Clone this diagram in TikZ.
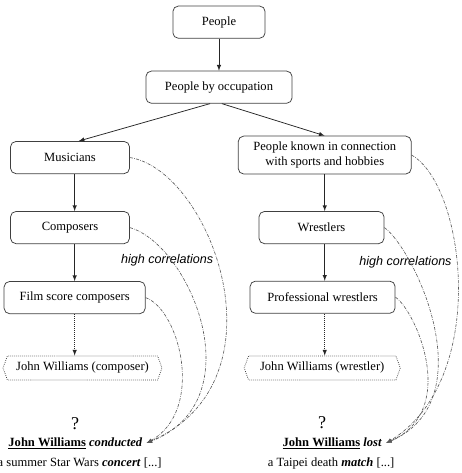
\documentclass[tikz,border=0pt]{standalone}
\usepackage{fontspec}
\setmainfont{Liberation Serif}
\newfontfamily\corrfont{Liberation Sans}
\usetikzlibrary{shapes.symbols}
\begin{document}
\begin{tikzpicture}[font=\normalsize,
    box/.style={draw=black!75,line width=.6pt,rounded corners=.15cm,minimum height=.9cm,align=center},
    leaf/.style={draw=black!75,densely dotted,line width=.6pt,signal,signal to=west and east,signal pointer angle=140,minimum height=.67cm},
    arr/.style={-latex,line width=.6pt,black!85},
    corr/.style={-latex,gray!70!black,line width=.5pt,dash pattern=on 2.5pt off 1pt on .5pt off 1pt}]
    \useasboundingbox (0,0) rectangle (12.91,-13.24);
    \node[box,minimum width=2.58cm] (people) at(6.13,-.62) {People};
    \node[box,minimum width=4.09cm] (occ) at(6.13,-2.44) {People by occupation};
    \node[box,minimum width=3.33cm] (mus) at(1.96,-4.41) {Musicians};
    \node[box,minimum width=4.84cm,minimum height=1.06cm,inner sep=1pt] (sports) at(9.09,-4.34) {People known in connection\\with sports and hobbies};
    \node[box,minimum width=3.33cm] (comp) at(1.96,-6.37) {Composers};
    \node[box,minimum width=3.5cm] (wres) at(9,-6.37) {Wrestlers};
    \node[box,minimum width=3.95cm] (film) at(2.09,-8.33) {Film score composers};
    \node[box,minimum width=4.06cm] (pro) at(9.03,-8.32) {Professional wrestlers};
    \node[leaf,minimum width=4.45cm] (jwc) at(2.31,-10.3) {John Williams (composer)};
    \node[leaf,minimum width=4.37cm] (jww) at(9.02,-10.3) {John Williams (wrestler)};
    \node[font=\Large] (q1) at(2.1,-11.87) {?};
    \node[font=\Large] (q2) at(9.02,-11.84) {?};
    \node (s1) at(2.11,-12.4) {\underline{\textbf{John Williams}} \textbf{\textit{conducted}}};
    \node (s2) at(9.3,-12.4) {\underline{\textbf{John Williams}} \textbf{\textit{lost}}};
    \node (t1) at(2.23,-12.96) {a summer Star Wars \textbf{\textit{concert}} [...]};
    \node (t2) at(9.27,-12.96) {a Taipei death \textbf{\textit{match}} [...]};
    \node[font=\corrfont\itshape] (hc1) at(4.68,-7.28) {high correlations};
    \node[font=\corrfont\itshape] (hc2) at(11.35,-7.34) {high correlations};
    \draw[arr] (people) -- (occ);
    \draw[arr] ([xshift=-.25cm]occ.south) -- ([xshift=.24cm]mus.north);
    \draw[arr] ([xshift=.08cm]occ.south) -- (sports.north);
    \draw[arr] (mus.south -| film) -- (comp.north -| film);
    \draw[arr] (comp.south -| film) -- (film.north);
    \draw[arr,densely dotted] (film.south) -- (film.south |- jwc.north);
    \draw[arr] (sports.south) -- (sports.south |- wres.north);
    \draw[arr] (wres.south -| sports) -- (pro.north -| sports);
    \draw[arr,densely dotted] (pro.south -| sports) -- (sports.south |- jww.north);
    \draw[corr] (mus.east) .. controls (5.88,-4.76) and (8.12,-10.64) .. (s1.east);
    \draw[corr] (comp.east) .. controls (5.32,-6.86) and (7.14,-11.2) .. (s1.east);
    \draw[corr] (film.east) .. controls (5.04,-8.68) and (5.74,-11.48) .. (s1.east);
    \draw[corr] (sports.east) .. controls (13.02,-5.18) and (13.72,-10.64) .. (s2.east);
    \draw[corr] (wres.east) .. controls (11.62,-7) and (13.58,-11.2) .. (s2.east);
    \draw[corr] (pro.east) .. controls (11.62,-8.68) and (12.88,-11.48) .. (s2.east);
  \end{tikzpicture}
\end{document}
